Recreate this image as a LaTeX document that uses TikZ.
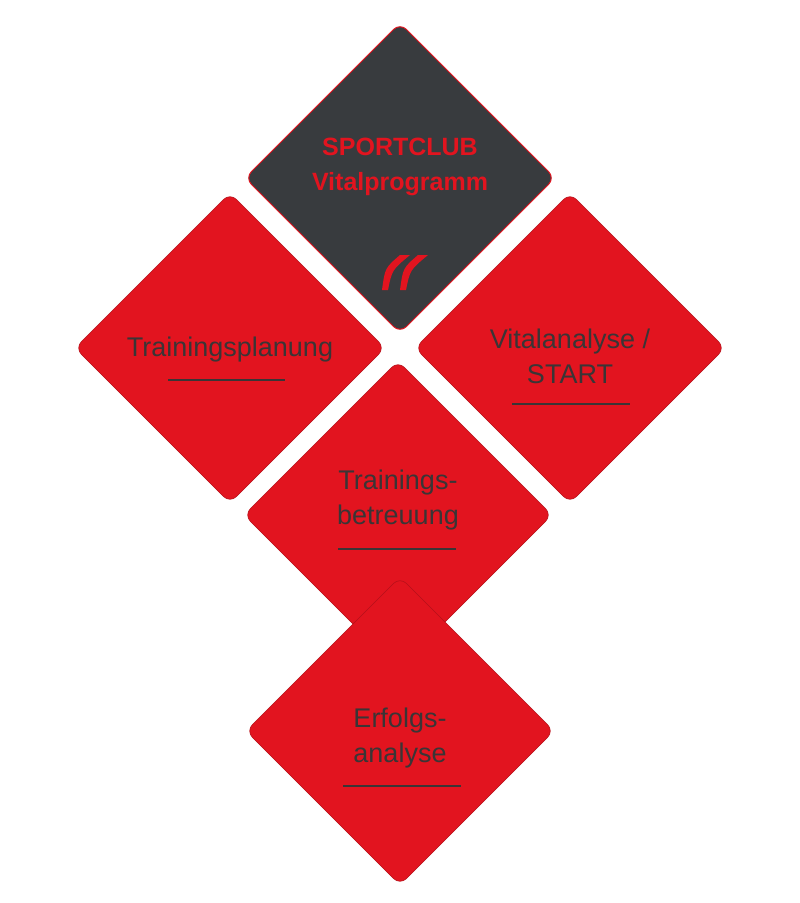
\documentclass[tikz,border=0pt]{standalone}
\usepackage{fontspec}
\setmainfont{Liberation Sans}
\usetikzlibrary{positioning}
\definecolor{vitalred}{HTML}{E2141F}
\definecolor{clubgrey}{HTML}{383B3E}
\definecolor{textgrey}{HTML}{3A3536}
\tikzset{
	tile/.style = {fill = vitalred, rounded corners = 9pt, draw = vitalred!80!black, line width = 0.6pt},
	darktile/.style = {fill = clubgrey, rounded corners = 9pt, draw = vitalred, line width = 1pt},
	label/.style = {font = \fontsize{27}{35}\selectfont, text = textgrey, align = center},
	rule/.style = {draw = textgrey, line width = 1.2pt}
}
\newcommand{\tilepath}[3]{(#1,#2-#3) -- (#1+#3,#2) -- (#1,#2+#3) -- (#1-#3,#2) -- cycle}
\begin{document}
\begin{tikzpicture}[x = 1pt, y = -1pt]
	\useasboundingbox (0,0) rectangle (800,903);

	% tiles
	\draw[darktile] \tilepath{400}{178}{155};
	\draw[tile] \tilepath{230}{348}{155};
	\draw[tile] \tilepath{570}{348}{155};
	\draw[tile] \tilepath{398}{515}{154};
	\draw[tile] \tilepath{400}{731}{154};

	% labels
	\node[label, font = \bfseries\fontsize{25}{35}\selectfont, text = vitalred] (club) at (400,167) {SPORTCLUB\\Vitalprogramm};
	\node[label] (plan) at (230,350) {Trainingsplanung};
	\node[label] (vital) at (570,356) {Vitalanalyse /\\START};
	\node[label] (care) at (398,500) {Trainings-\\betreuung};
	\node[label] (success) at (400,738) {Erfolgs-\\analyse};

	% underlines
	\coordinate (p1) at (168,380); \coordinate (p2) at (285,380);
	\coordinate (v1) at (512,404); \coordinate (v2) at (630,404);
	\coordinate (c1) at (338,549); \coordinate (c2) at (456,549);
	\coordinate (s1) at (343,786); \coordinate (s2) at (461,786);
	\draw[rule] (p1) -- (p2);
	\draw[rule] (v1) -- (v2);
	\draw[rule] (c1) -- (c2);
	\draw[rule] (s1) -- (s2);

	% logo
	\fill[vitalred] (400,255) .. controls (385,268) .. (382,290) -- (388,290) .. controls (392,270) .. (410,255) -- cycle;
	\fill[vitalred] (418,255) .. controls (403,268) .. (400,290) -- (406,290) .. controls (410,270) .. (428,255) -- cycle;
\end{tikzpicture}
\end{document}
